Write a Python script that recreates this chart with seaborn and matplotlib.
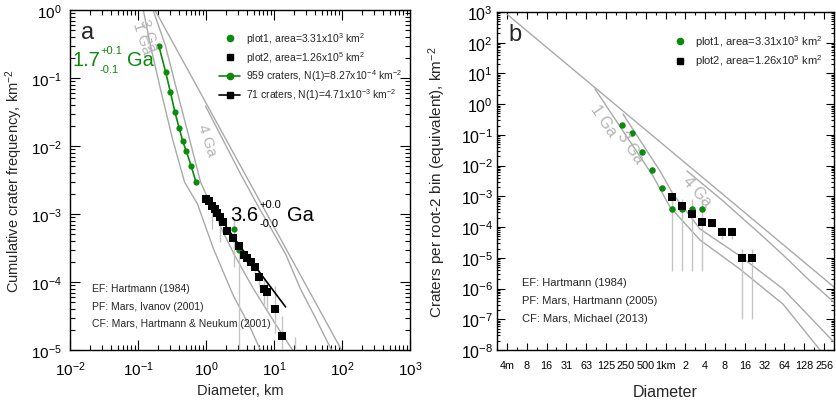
import matplotlib
matplotlib.use("Agg")
import matplotlib.pyplot as plt
import seaborn as sns
from matplotlib.lines import Line2D
from matplotlib.ticker import FixedLocator, FixedFormatter, LogLocator, NullFormatter

# ---------------- panel a: cumulative crater frequency ----------------
# plot1 counts (D in km, cumulative N in km^-2) with error-bar extents
plot1_d = [0.202, 0.254, 0.30, 0.348, 0.404, 0.456, 0.511, 0.605, 0.708, 1.225, 1.60, 2.56, 3.04]
plot1_n = [0.30, 0.124, 0.0617, 0.0319, 0.0182, 0.0117, 0.0085, 0.0051, 0.0030, 1.3e-3, 9.0e-4, 6.0e-4, 2.96e-4]
plot1_lo = [0.29, 0.12, 0.059, 0.030, 0.017, 0.011, 0.0080, 0.0047, 0.0027, 6.0e-4, 3.9e-4, 1.66e-4, 1e-7]
plot1_hi = [0.31, 0.128, 0.064, 0.033, 0.019, 0.0123, 0.0090, 0.0055, 0.0033, 1.3e-3, 9.0e-4, 8.5e-4, 2.96e-4]

# plot2 counts
plot2_d = [1.0, 1.107, 1.225, 1.334, 1.462, 1.60, 1.75, 2.05, 2.51, 3.05, 3.60, 4.04, 4.62,
           5.17, 6.12, 7.08, 8.02, 10.2, 13.2, 20.7]
plot2_n = [1.69e-3, 1.53e-3, 1.33e-3, 1.19e-3, 1.04e-3, 9.1e-4, 7.5e-4, 5.7e-4, 4.46e-4, 3.42e-4,
           2.53e-4, 2.29e-4, 1.94e-4, 1.64e-4, 1.17e-4, 7.9e-5, 7.1e-5, 3.98e-5, 1.58e-5, 6.0e-6]
plot2_lo = [1.6e-3, 1.45e-3, 1.25e-3, 1.1e-3, 9.6e-4, 8.3e-4, 6.8e-4, 5.1e-4, 3.9e-4, 2.9e-4,
            2.1e-4, 1.9e-4, 1.6e-4, 1.3e-4, 8.5e-5, 4.5e-5, 4.0e-5, 1.8e-5, 1e-7, 1e-7]
plot2_hi = [1.78e-3, 1.61e-3, 1.41e-3, 1.28e-3, 1.12e-3, 9.9e-4, 8.2e-4, 6.3e-4, 5.0e-4, 3.9e-4,
            2.9e-4, 2.7e-4, 2.3e-4, 2.0e-4, 1.5e-4, 1.15e-4, 1.05e-4, 8.7e-5, 3.16e-5, 1.55e-5]

# fitted isochron segments
fit1_d = plot1_d[:9]
fit1_n = plot1_n[:9]
fit2_d = [1.0, 3.0, 14.8]
fit2_n = [1.75e-3, 3.6e-4, 4.3e-5]

# reference curves, panel a
a_ef_d = [0.181, 98.4]
a_ef_n = [0.967, 1.0e-5]
a_1ga_d = [0.1205, 0.153, 0.214, 0.322, 0.483, 0.750, 1.29, 2.54, 4.22, 6.33]
a_1ga_n = [0.967, 0.296, 0.0689, 0.01267, 2.96e-3, 1.40e-3, 3.06e-4, 6.2e-5, 2.41e-5, 1.0e-5]
a_3ga_d = [0.169, 0.254, 0.368, 0.572, 0.830, 1.165, 1.75, 2.72, 5.0, 10.5, 18.7]
a_3ga_n = [0.967, 0.296, 0.0689, 0.01267, 2.96e-3, 1.40e-3, 5.62e-4, 2.33e-4, 7.9e-5, 2.41e-5, 1.0e-5]
a_4ga_d = [0.983, 1.75, 3.22, 5.92, 9.5, 14.8, 24.5, 40.8, 70.1]
a_4ga_n = [0.0388, 0.01267, 3.88e-3, 1.27e-3, 5.62e-4, 2.58e-4, 7.9e-5, 2.95e-5, 1.0e-5]

# ---------------- panel b: root-2 binned frequency ----------------
b1_d = [0.216, 0.307, 0.435, 0.617, 0.876, 1.24, 1.76, 2.50, 3.55]
b1_n = [0.215, 0.113, 0.0284, 7.2e-3, 1.87e-3, 3.9e-4, 3.9e-4, 3.9e-4, 3.9e-4]
b1_lo = [0.19, 0.10, 0.025, 6.2e-3, 1.55e-3, 3.7e-6, 3.7e-6, 3.7e-6, 3.7e-6]
b1_hi = [0.24, 0.126, 0.032, 8.3e-3, 2.2e-3, 8.1e-4, 8.1e-4, 8.1e-4, 8.1e-4]
b2_d = [1.24, 1.76, 2.50, 3.55, 5.03, 7.15, 10.1, 14.3, 20.4]
b2_n = [9.3e-4, 4.8e-4, 2.7e-4, 1.5e-4, 1.38e-4, 7.1e-5, 7.1e-5, 1.0e-5, 1.0e-5]
b2_lo = [7.8e-4, 3.8e-4, 2.1e-4, 1.1e-4, 1.0e-4, 4.1e-5, 4.1e-5, 1.0e-7, 1.0e-7]
b2_hi = [1.08e-3, 5.8e-4, 3.3e-4, 1.9e-4, 1.75e-4, 9.9e-5, 9.9e-5, 1.95e-5, 1.95e-5]

b_ef_d = [2 ** -8, 362.0]
b_ef_n = [850.0, 1.12e-6]
b_1ga_d = [0.0850, 0.646, 1.17, 3.34, 13.5, 60.9, 222.0]
b_1ga_n = [3.12, 4.6e-3, 4.5e-4, 3.8e-5, 4.3e-6, 3.1e-7, 1.0e-8]
b_3ga_d = [0.226, 0.825, 1.30, 3.34, 13.5, 60.9, 362.0]
b_3ga_n = [0.48, 6.7e-3, 1.19e-3, 8.7e-5, 1.15e-5, 9.7e-7, 1.8e-8]
b_4ga_d = [2.12, 7.2, 27.3, 61.0, 156.0, 362.0]
b_4ga_n = [6.7e-3, 7.6e-4, 6.0e-5, 1.24e-5, 1.78e-6, 3.6e-7]

b_tick_exp = list(range(-8, 9))
b_tick_labels = ["4m", "8", "16", "31", "63", "125", "250", "500", "1km",
                 "2", "4", "8", "16", "32", "64", "128", "256"]

legend_plot1 = r"plot1, area=3.31x10$^{3}$ km$^{2}$"
legend_plot2 = r"plot2, area=1.26x10$^{5}$ km$^{2}$"
legend_fit1 = r"959 craters, N(1)=8.27x10$^{-4}$ km$^{-2}$"
legend_fit2 = r"71 craters, N(1)=4.71x10$^{-3}$ km$^{-2}$"

# ---------------- styling ----------------
sns.set_theme(style="ticks")
plt.rcParams["font.family"] = ["Liberation Sans", "DejaVu Sans"]
plt.rcParams["mathtext.fontset"] = "custom"
plt.rcParams["mathtext.rm"] = "Liberation Sans"
plt.rcParams["mathtext.it"] = "Liberation Sans:italic"
plt.rcParams["mathtext.bf"] = "Liberation Sans:bold"
plt.rcParams["axes.edgecolor"] = "black"
plt.rcParams["axes.linewidth"] = 1.0

GREEN = "#0b8a0b"
GREY = "#a9a9a9"
BAR = "#c4c4c4"
LABEL_GREY = "#b5b5b5"

W, H = 836, 402
fig = plt.figure(figsize=(W / 100, H / 100), dpi=100)


def fpos(x, y):
    return x / W, 1 - y / H


ax_a = fig.add_axes([70 / W, 1 - 351 / H, 340 / W, 340 / H])
ax_b = fig.add_axes([497 / W, 1 - 351 / H, 337 / W, 338 / H])


def curve(ax, d, n, color=GREY, lw=1.0, z=2):
    sns.lineplot(x=d, y=n, ax=ax, color=color, lw=lw, sort=False, estimator=None, zorder=z)


# ---- panel a ----
ax_a.set_xscale("log")
ax_a.set_yscale("log")
for d, n in [(a_ef_d, a_ef_n), (a_1ga_d, a_1ga_n), (a_3ga_d, a_3ga_n), (a_4ga_d, a_4ga_n)]:
    curve(ax_a, d, n)
ax_a.vlines(plot1_d, plot1_lo, plot1_hi, color=BAR, lw=1.0, zorder=3)
ax_a.vlines(plot2_d, plot2_lo, plot2_hi, color=BAR, lw=1.0, zorder=3)
curve(ax_a, fit1_d, fit1_n, color=GREEN, lw=1.2, z=4)
curve(ax_a, fit2_d, fit2_n, color="black", lw=1.2, z=6)
sns.scatterplot(x=plot1_d, y=plot1_n, ax=ax_a, color=GREEN, marker="o", s=20,
                linewidth=0, zorder=5)
sns.scatterplot(x=plot2_d, y=plot2_n, ax=ax_a, color="black", marker="s", s=26,
                linewidth=0, zorder=7)
ax_a.set_xlim(1e-2, 1e3)
ax_a.set_ylim(1e-5, 1)
ax_a.xaxis.set_major_locator(LogLocator(base=10, numticks=10))
ax_a.xaxis.set_minor_locator(LogLocator(base=10, subs=range(2, 10), numticks=20))
ax_a.yaxis.set_major_locator(LogLocator(base=10, numticks=10))
ax_a.yaxis.set_minor_locator(LogLocator(base=10, subs=range(2, 10), numticks=20))
ax_a.xaxis.set_minor_formatter(NullFormatter())
ax_a.yaxis.set_minor_formatter(NullFormatter())
ax_a.tick_params(which="both", direction="in", top=True, right=True, width=0.8, colors="black")
ax_a.tick_params(which="major", length=7, labelsize=11)
ax_a.tick_params(which="minor", length=3.5)
ax_a.tick_params(axis="x", which="major", pad=7)
ax_a.tick_params(axis="y", which="major", pad=6)
ax_a.set_xlabel("Diameter, km", fontsize=10.5)
ax_a.set_ylabel(r"Cumulative crater frequency, km$^{-2}$", fontsize=10.5)
ax_a.xaxis.set_label_coords(0.5, -0.097)
ax_a.yaxis.set_label_coords(-0.132, 0.5)

handles_a = [
    Line2D([], [], marker="o", ls="none", color=GREEN, ms=4.5),
    Line2D([], [], marker="s", ls="none", color="black", ms=4.5),
    Line2D([], [], marker="o", ls="-", color=GREEN, ms=4.5, lw=1.2),
    Line2D([], [], marker="s", ls="-", color="black", ms=4.5, lw=1.2),
]
fig.legend(handles_a, [legend_plot1, legend_plot2, legend_fit1, legend_fit2],
           loc="upper left", bbox_to_anchor=fpos(214, 26), frameon=False, fontsize=7.5,
           handlelength=2.0, handletextpad=0.6, labelspacing=0.28, borderpad=0)

fig.text(*fpos(88, 33), "a", fontsize=17, ha="center", va="center")
fig.text(*fpos(100, 60), "1.7", fontsize=14.5, color=GREEN, ha="right", va="center")
fig.text(*fpos(100, 51), "+0.1", fontsize=8, color=GREEN, ha="left", va="center")
fig.text(*fpos(100, 70), "-0.1", fontsize=8, color=GREEN, ha="left", va="center")
fig.text(*fpos(127, 60), "Ga", fontsize=14.5, color=GREEN, ha="left", va="center")
fig.text(*fpos(258, 216), "3.6", fontsize=14.5, color="black", ha="right", va="center")
fig.text(*fpos(259, 205), "+0.0", fontsize=8, color="black", ha="left", va="center")
fig.text(*fpos(259, 224), "-0.0", fontsize=8, color="black", ha="left", va="center")
fig.text(*fpos(287, 216), "Ga", fontsize=14.5, color="black", ha="left", va="center")
fig.text(*fpos(207, 140), "4 Ga", fontsize=11, color=LABEL_GREY, rotation=-72,
         ha="center", va="center")
fig.text(*fpos(142, 38), "1 Ga", fontsize=11, color=LABEL_GREY, rotation=-72,
         ha="center", va="center")
fig.text(*fpos(149, 35), "3 Ga", fontsize=11, color=LABEL_GREY, rotation=-72,
         ha="center", va="center")
for y, s in [(289, "EF: Hartmann (1984)"), (307, "PF: Mars, Ivanov (2001)"),
             (324, "CF: Mars, Hartmann & Neukum (2001)")]:
    fig.text(*fpos(92, y), s, fontsize=7.5, ha="left", va="center")

# ---- panel b ----
ax_b.set_xscale("log", base=2)
ax_b.set_yscale("log")
for d, n in [(b_ef_d, b_ef_n), (b_1ga_d, b_1ga_n), (b_3ga_d, b_3ga_n), (b_4ga_d, b_4ga_n)]:
    curve(ax_b, d, n)
ax_b.vlines(b1_d, b1_lo, b1_hi, color=BAR, lw=1.0, zorder=3)
ax_b.vlines(b2_d, b2_lo, b2_hi, color=BAR, lw=1.0, zorder=3)
sns.scatterplot(x=b1_d, y=b1_n, ax=ax_b, color=GREEN, marker="o", s=22, linewidth=0, zorder=5)
sns.scatterplot(x=b2_d, y=b2_n, ax=ax_b, color="black", marker="s", s=30, linewidth=0, zorder=6)
ax_b.set_xlim(2 ** -8.5, 2 ** 8.5)
ax_b.set_ylim(1e-8, 1e3)
ax_b.xaxis.set_major_locator(FixedLocator([2.0 ** k for k in b_tick_exp]))
ax_b.xaxis.set_major_formatter(FixedFormatter(b_tick_labels))
ax_b.xaxis.set_minor_locator(FixedLocator([2.0 ** (k + 0.5) for k in range(-9, 9)]))
ax_b.xaxis.set_minor_formatter(NullFormatter())
ax_b.yaxis.set_major_locator(LogLocator(base=10, numticks=15))
ax_b.yaxis.set_minor_locator(LogLocator(base=10, subs=range(2, 10), numticks=30))
ax_b.yaxis.set_minor_formatter(NullFormatter())
ax_b.tick_params(which="both", direction="in", top=True, right=True, width=0.8, colors="black")
ax_b.tick_params(which="major", length=5)
ax_b.tick_params(which="minor", length=2.5)
ax_b.tick_params(axis="x", which="major", labelsize=7.8, pad=7)
ax_b.tick_params(axis="y", which="major", labelsize=11.5, pad=3, length=6)
ax_b.set_xlabel("Diameter", fontsize=11.5)
ax_b.set_ylabel(r"Craters per root-2 bin (equivalent), km$^{-2}$", fontsize=11)
ax_b.xaxis.set_label_coords(0.5, -0.1)
ax_b.yaxis.set_label_coords(-0.145, 0.5)

handles_b = handles_a[:2]
fig.legend(handles_b, [legend_plot1, legend_plot2], loc="upper left",
           bbox_to_anchor=fpos(669, 29), frameon=False, fontsize=8,
           handlelength=1.0, handletextpad=0.8, labelspacing=0.3, borderpad=0)

fig.text(*fpos(515, 35), "b", fontsize=17, ha="center", va="center")
fig.text(*fpos(603, 121), "1 Ga", fontsize=11.5, color=LABEL_GREY, rotation=-56,
         ha="center", va="center")
fig.text(*fpos(630, 148), "3 Ga", fontsize=11.5, color=LABEL_GREY, rotation=-56,
         ha="center", va="center")
fig.text(*fpos(697, 192), "4 Ga", fontsize=11.5, color=LABEL_GREY, rotation=-48,
         ha="center", va="center")
for y, s in [(283, "EF: Hartmann (1984)"), (301, "PF: Mars, Hartmann (2005)"),
             (319, "CF: Mars, Michael (2013)")]:
    fig.text(*fpos(522, y), s, fontsize=8, ha="left", va="center")

fig.savefig("out.png", dpi=100)
